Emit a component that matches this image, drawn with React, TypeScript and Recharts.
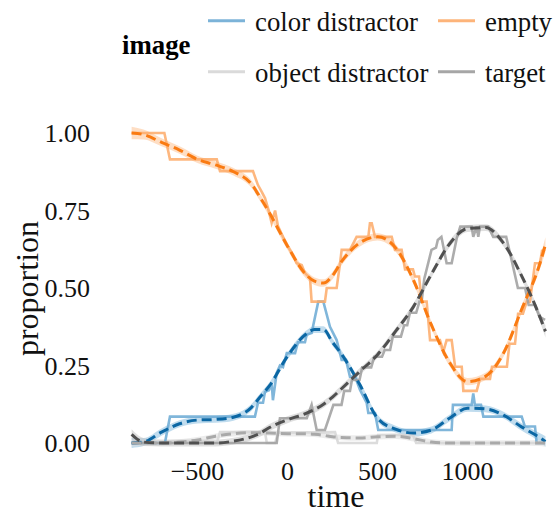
import React from "react";
import { ComposedChart, Line, Area, XAxis, YAxis } from "recharts";

// ---------- raw proportions (time, value) ----------
const colorRawT = [-866, -681, -653, -181, -164, -136, -125, -103, -88, -81, -60, -42, -25, -4, 42, 58, 97, 107, 134, 171, 199, 236, 273, 301, 325, 347, 375, 403, 440, 449, 486, 504, 912, 919, 1023, 1032, 1041, 1075, 1088, 1301, 1319, 1375, 1384, 1431];
const colorRawV = [0, 0, 0.085, 0.085, 0.13, 0.13, 0.165, 0.17, 0.193, 0.138, 0.226, 0.25, 0.245, 0.29, 0.29, 0.325, 0.325, 0.35, 0.355, 0.456, 0.456, 0.375, 0.332, 0.268, 0.268, 0.214, 0.214, 0.171, 0.129, 0.097, 0.097, 0.042, 0.042, 0.123, 0.123, 0.16, 0.123, 0.123, 0.085, 0.085, 0.053, 0.053, 0, 0];

const emptyRawT = [-866, -684, -653, -393, -375, -192, -164, -143, -125, -108, -88, -69, -53, -25, 3, 31, 51, 79, 97, 125, 134, 208, 218, 273, 292, 301, 347, 384, 449, 458, 468, 486, 579, 597, 634, 653, 697, 708, 731, 746, 773, 792, 847, 866, 884, 912, 931, 968, 977, 1051, 1069, 1125, 1136, 1219, 1233, 1264, 1281, 1308, 1329, 1347, 1375, 1403, 1414, 1431];
const emptyRawV = [1.0, 1.0, 0.915, 0.915, 0.877, 0.877, 0.832, 0.81, 0.79, 0.757, 0.71, 0.75, 0.7, 0.665, 0.633, 0.606, 0.58, 0.574, 0.548, 0.532, 0.456, 0.456, 0.5, 0.5, 0.58, 0.623, 0.623, 0.665, 0.665, 0.709, 0.709, 0.665, 0.665, 0.623, 0.623, 0.56, 0.56, 0.537, 0.537, 0.456, 0.456, 0.332, 0.332, 0.295, 0.332, 0.332, 0.246, 0.246, 0.168, 0.168, 0.207, 0.207, 0.246, 0.246, 0.32, 0.32, 0.417, 0.417, 0.456, 0.456, 0.58, 0.58, 0.62, 0.623];

const objectRawT = [-866, -393, -375, -125, -115, -69, -53, 264, 281, 496, 503, 697, 715, 1431];
const objectRawV = [0, 0, 0.035, 0.035, 0, 0, 0.033, 0.035, 0, 0, 0.026, 0.026, 0, 0];

const targetRawT = [-866, -60, -42, 107, 134, 162, 208, 255, 300, 315, 347, 358, 400, 415, 465, 482, 525, 540, 570, 585, 630, 648, 665, 680, 715, 733, 745, 760, 800, 825, 835, 855, 866, 884, 912, 940, 960, 1023, 1032, 1051, 1060, 1069, 1115, 1143, 1215, 1245, 1280, 1320, 1340, 1375, 1400, 1431];
const targetRawV = [0, 0, 0.08, 0.08, 0.123, 0.042, 0.042, 0.123, 0.123, 0.168, 0.168, 0.203, 0.203, 0.244, 0.244, 0.278, 0.278, 0.3, 0.3, 0.343, 0.343, 0.38, 0.38, 0.42, 0.42, 0.456, 0.456, 0.53, 0.623, 0.63, 0.655, 0.665, 0.633, 0.58, 0.58, 0.66, 0.698, 0.698, 0.665, 0.698, 0.665, 0.698, 0.698, 0.665, 0.665, 0.59, 0.5, 0.5, 0.445, 0.445, 0.407, 0.397];

// ---------- smoothed fits ----------
const smoothT = [-866, -800, -700, -600, -500, -400, -300, -200, -150, -100, 0, 100, 150, 200, 250, 300, 400, 500, 600, 700, 800, 900, 1000, 1100, 1200, 1300, 1400, 1433];
const colorFit = [0.0, 0.003, 0.035, 0.062, 0.074, 0.076, 0.083, 0.115, 0.15, 0.185, 0.28, 0.35, 0.366, 0.366, 0.325, 0.287, 0.19, 0.08, 0.045, 0.032, 0.042, 0.08, 0.112, 0.11, 0.09, 0.052, 0.018, 0.005];
const emptyFit = [1.0, 0.995, 0.97, 0.945, 0.915, 0.897, 0.875, 0.835, 0.79, 0.742, 0.635, 0.545, 0.522, 0.516, 0.54, 0.585, 0.645, 0.665, 0.63, 0.525, 0.38, 0.26, 0.198, 0.215, 0.29, 0.43, 0.575, 0.64];
const objectFit = [0, 0, 0, 0.003, 0.01, 0.022, 0.03, 0.033, 0.033, 0.032, 0.03, 0.03, 0.028, 0.025, 0.02, 0.018, 0.016, 0.02, 0.022, 0.014, 0.003, 0, 0, 0, 0, 0, 0, 0];
const targetFit = [0.028, 0.003, 0, 0, 0, 0, 0.006, 0.02, 0.032, 0.05, 0.075, 0.095, 0.108, 0.125, 0.148, 0.175, 0.23, 0.285, 0.36, 0.44, 0.545, 0.642, 0.692, 0.695, 0.645, 0.54, 0.41, 0.36];
// ribbon half-widths
const colorSe = [0.016, 0.013, 0.012, 0.011, 0.011, 0.011, 0.011, 0.011, 0.011, 0.011, 0.011, 0.011, 0.011, 0.011, 0.011, 0.011, 0.011, 0.011, 0.011, 0.011, 0.011, 0.011, 0.011, 0.011, 0.011, 0.012, 0.014, 0.017];
const emptySe = [0.02, 0.016, 0.013, 0.012, 0.012, 0.012, 0.012, 0.012, 0.012, 0.012, 0.012, 0.012, 0.012, 0.012, 0.012, 0.012, 0.012, 0.012, 0.012, 0.012, 0.012, 0.012, 0.012, 0.012, 0.012, 0.013, 0.018, 0.024];
const objectSe = [0.012, 0.01, 0.009, 0.009, 0.009, 0.009, 0.009, 0.009, 0.009, 0.009, 0.009, 0.009, 0.009, 0.009, 0.009, 0.009, 0.009, 0.009, 0.009, 0.009, 0.009, 0.009, 0.009, 0.009, 0.009, 0.009, 0.01, 0.012];
const targetSe = [0.016, 0.013, 0.011, 0.011, 0.011, 0.011, 0.011, 0.011, 0.011, 0.011, 0.011, 0.011, 0.011, 0.011, 0.011, 0.011, 0.011, 0.011, 0.011, 0.011, 0.011, 0.011, 0.011, 0.011, 0.011, 0.012, 0.015, 0.02];

const yTicks = [0, 0.25, 0.5, 0.75, 1];
const xTicks = [-500, 0, 500, 1000];

const legendItems = [
  { label: "color distractor", color: "#7cb3d8" },
  { label: "empty", color: "#fdb47a" },
  { label: "object distractor", color: "#dadada" },
  { label: "target", color: "#a6a6a6" },
];

const toPts = (ts: number[], vs: number[]) => ts.map((t, i) => ({ t, v: vs[i] }));

const smoothData = smoothT.map((t, i) => ({
  t,
  color: colorFit[i],
  empty: emptyFit[i],
  object: objectFit[i],
  target: targetFit[i],
  colorBand: [colorFit[i] - colorSe[i], colorFit[i] + colorSe[i]],
  emptyBand: [emptyFit[i] - emptySe[i], emptyFit[i] + emptySe[i]],
  objectBand: [objectFit[i] - objectSe[i], objectFit[i] + objectSe[i]],
  targetBand: [targetFit[i] - targetSe[i], targetFit[i] + targetSe[i]],
}));

const FONT = "'Liberation Serif', 'Times New Roman', serif";
const fmtX = (v: number) => String(v).replace("-", "\u2212");

export default function App() {
  const raw = [
    { key: "color", data: toPts(colorRawT, colorRawV), stroke: "#6aa9d3" },
    { key: "empty", data: toPts(emptyRawT, emptyRawV), stroke: "#fdaa68" },
    { key: "object", data: toPts(objectRawT, objectRawV), stroke: "#d6d6d6" },
    { key: "target", data: toPts(targetRawT, targetRawV), stroke: "#9e9e9e" },
  ];
  const fits = [
    { key: "color", stroke: "#0b67a4", fill: "#8dbfe0" },
    { key: "empty", stroke: "#fa7b12", fill: "#fdc293" },
    { key: "object", stroke: "#a9a9a9", fill: "#dcdcdc" },
    { key: "target", stroke: "#505050", fill: "#c4c4c4" },
  ];
  return (
    <div style={{ position: "absolute", left: 0, top: 0, width: 553, height: 513, background: "#fff" }}>
      <ComposedChart
        width={553}
        height={513}
        data={smoothData}
        margin={{ top: 117.5, right: 4.5, bottom: 0, left: 0 }}
        style={{ fontFamily: FONT }}
      >
        <XAxis
          dataKey="t"
          type="number"
          domain={[-950, 1450]}
          ticks={xTicks}
          tickFormatter={fmtX}
          allowDataOverflow
          axisLine={false}
          tickLine={false}
          tickSize={0}
          tickMargin={3}
          height={54.5}
          tick={{ fontSize: 26, fill: "#111", fontFamily: FONT }}
        />
        <YAxis
          type="number"
          domain={[-0.05, 1.05]}
          ticks={yTicks}
          tickFormatter={(v: number) => v.toFixed(2)}
          allowDataOverflow
          axisLine={false}
          tickLine={false}
          tickSize={0}
          tickMargin={26.5}
          width={116.5}
          tick={{ fontSize: 26, fill: "#111", fontFamily: FONT }}
        />
        {raw.map((r) => (
          <Line
            key={"raw-" + r.key}
            data={r.data}
            dataKey="v"
            type="linear"
            stroke={r.stroke}
            strokeWidth={2.6}
            strokeOpacity={0.85}
            dot={false}
            activeDot={false}
            isAnimationActive={false}
          />
        ))}
        {fits.map((f) => (
          <Area
            key={"band-" + f.key}
            dataKey={f.key + "Band"}
            type="monotone"
            stroke="none"
            fill={f.fill}
            fillOpacity={0.55}
            isAnimationActive={false}
            activeDot={false}
          />
        ))}
        {fits.map((f) => (
          <Line
            key={"fit-" + f.key}
            dataKey={f.key}
            type="monotone"
            stroke={f.stroke}
            strokeWidth={3}
            strokeDasharray="10 5"
            dot={false}
            activeDot={false}
            isAnimationActive={false}
          />
        ))}
      </ComposedChart>
      <svg
        width={553}
        height={513}
        style={{ position: "absolute", left: 0, top: 0, pointerEvents: "none", fontFamily: FONT }}
      >
        <text x={122} y={54} fontSize={26.8} fontWeight="bold" fill="#000" fontFamily={FONT}>image</text>
        {legendItems.map((it, i) => {
          const col = i % 2;
          const row = Math.floor(i / 2);
          const kx = col === 0 ? 208 : 438;
          const ky = row === 0 ? 20.7 : 71.7;
          return (
            <g key={it.label}>
              <line x1={kx} x2={kx + 37} y1={ky} y2={ky} stroke={it.color} strokeWidth={3} />
              <text x={kx + 47} y={ky + 10} fontSize={26.8} fill="#111" fontFamily={FONT}>{it.label}</text>
            </g>
          );
        })}
        <text x={336} y={507} fontSize={32} textAnchor="middle" fill="#111" fontFamily={FONT}>time</text>
        <text
          x={38}
          y={288.5}
          fontSize={32}
          textAnchor="middle"
          fill="#111"
          fontFamily={FONT}
          transform="rotate(-90 38 288.5)"
        >
          proportion
        </text>
      </svg>
    </div>
  );
}
